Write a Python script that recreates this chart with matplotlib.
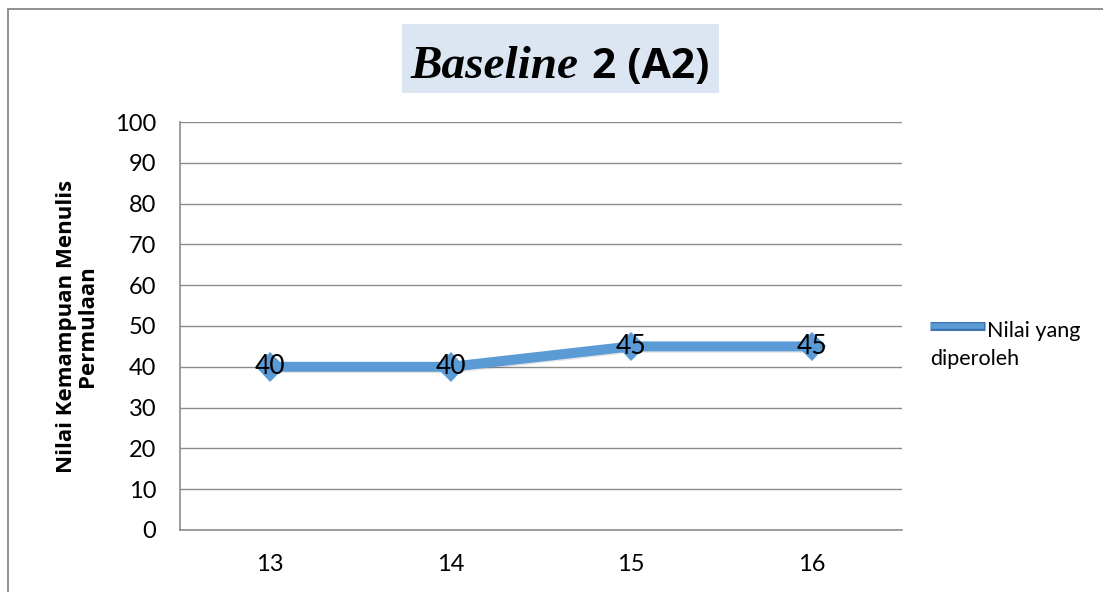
import matplotlib
matplotlib.use("Agg")
import matplotlib.pyplot as plt
import matplotlib.patheffects as pe
from matplotlib.patches import Rectangle
from matplotlib.lines import Line2D

sessions = ["13", "14", "15", "16"]
scores = [40, 40, 45, 45]
y_ticks = [0, 10, 20, 30, 40, 50, 60, 70, 80, 90, 100]
series_label = "Nilai yang\ndiperoleh"
y_label = "Nilai Kemampuan Menulis\nPermulaan"

SANS = ["Lato", "DejaVu Sans"]
SANS_BOLD = ["Open Sans", "DejaVu Sans"]
SERIF = ["Liberation Serif", "DejaVu Serif"]
LINE_BLUE = "#5b9bd5"
GRID = "#8c8c8c"

fig = plt.figure(figsize=(11.03, 5.92), dpi=100)
W, H = 1103, 592

# outer chart frame (runs off the right and bottom edges)
fig.patches.append(Rectangle((8 / W, -0.05), 1.2, (592 - 9) / H + 0.05,
                             transform=fig.transFigure, fill=False,
                             edgecolor="#8f8f8f", linewidth=1.4))

ax = fig.add_axes([180 / W, 62 / H, (902 - 180) / W, (530 - 122) / H])
x = list(range(len(sessions)))

ax.set_xlim(-0.5, len(sessions) - 0.5)
ax.set_ylim(0, 100)
ax.set_yticks(y_ticks)
ax.set_xticks(x)
ax.set_xticklabels(sessions)
ax.grid(axis="y", color=GRID, linewidth=1.0)
ax.set_axisbelow(True)
for side in ("top", "right"):
    ax.spines[side].set_visible(False)
for side in ("left", "bottom"):
    ax.spines[side].set_color(GRID)
    ax.spines[side].set_linewidth(1.2)
ax.tick_params(length=0, labelsize=17)
ax.tick_params(axis="y", pad=17)
ax.tick_params(axis="x", pad=17)
for lbl in ax.get_xticklabels() + ax.get_yticklabels():
    lbl.set_family(SANS)

ax.plot(x, scores, color=LINE_BLUE, linewidth=7.2, marker="D", markersize=15,
        markeredgewidth=0, solid_joinstyle="miter", zorder=3,
        path_effects=[pe.SimpleLineShadow(offset=(1.0, -1.0), alpha=0.1),
                      pe.Normal()])

for xi, v in zip(x, scores):
    ax.text(xi, v, str(v), ha="center", va="center", fontsize=19,
            family=SANS, color="black", zorder=4)

ax.set_ylabel(y_label, fontsize=16, fontweight="bold", family=SANS_BOLD,
              linespacing=1.0)
ax.yaxis.set_label_coords(-0.113, 0.5)

# title box with mixed fonts
fig.patches.append(Rectangle((402 / W, (592 - 93) / H), (719 - 402) / W, (93 - 24) / H,
                             transform=fig.transFigure, facecolor="#dce6f2",
                             edgecolor="none"))
fig.text(410 / W, (592 - 78) / H, "Baseline", fontsize=34, family=SERIF,
         style="italic", fontweight="bold", va="baseline", ha="left")
fig.text(592 / W, (592 - 78) / H, "2 (A2)", fontsize=30.5, family=SANS_BOLD,
         fontweight="bold", va="baseline", ha="left")

# legend entry
fig.lines.append(Line2D([930 / W, 985 / W], [(592 - 326) / H] * 2,
                        transform=fig.transFigure, color="#3f72b0",
                        linewidth=6.5, solid_capstyle="butt"))
fig.lines.append(Line2D([931 / W, 984 / W], [(592 - 326) / H] * 2,
                        transform=fig.transFigure, color=LINE_BLUE,
                        linewidth=4, solid_capstyle="butt"))
fig.text(987 / W, (592 - 331) / H, "Nilai yang", fontsize=15.5, family=SANS,
         va="center", ha="left")
fig.text(930 / W, (592 - 359) / H, "diperoleh", fontsize=15.5, family=SANS,
         va="center", ha="left")

fig.savefig("out.png", dpi=100)
